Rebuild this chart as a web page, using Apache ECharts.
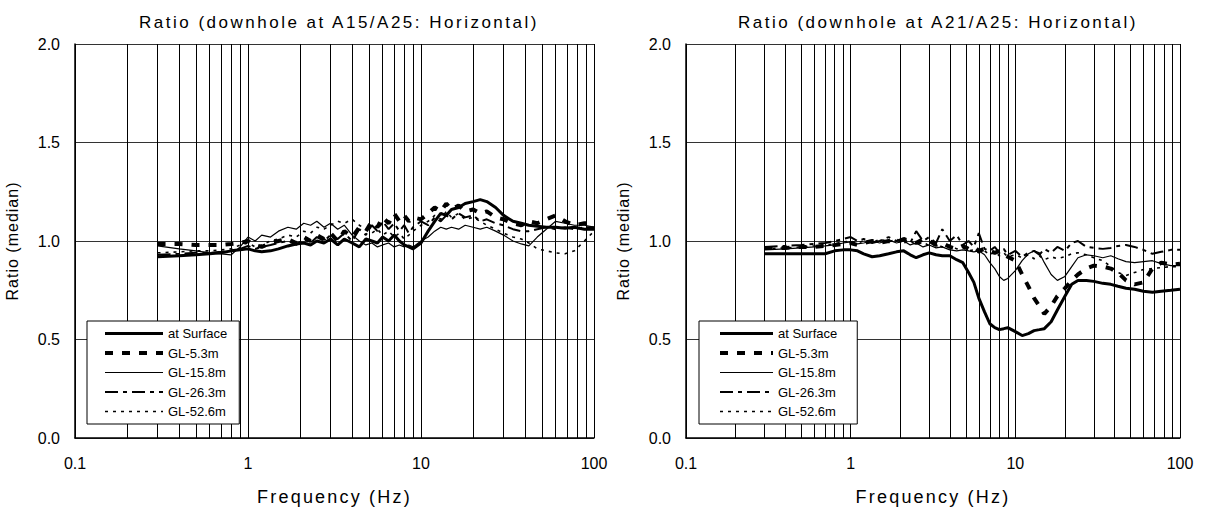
<!DOCTYPE html>
<html><head><meta charset="utf-8">
<script src="https://cdn.jsdelivr.net/npm/echarts@6/dist/echarts.min.js"></script>
<style>
html,body{margin:0;padding:0;background:#fff}#c{width:1206px;height:511px}
#c text[style*="Helvetica"]{letter-spacing:2.5px}
#c text[style*="Arimo"]{letter-spacing:2.2px}
#c text[style*="Tinos"]{letter-spacing:1.0px}
</style>
</head><body><div id="c"></div>
<script>
const freq = [0.3,0.4,0.5,0.6,0.7,0.8,0.9,1.0,1.1,1.2,1.35,1.5,1.7,1.9,2.1,2.3,2.5,2.75,3.0,3.3,3.6,4.0,4.4,4.8,5.2,5.6,6.0,6.5,7.0,7.5,8.0,8.5,9.0,10,11,12,13,14,15,16.5,18,20,22,24,27,30,34,38,42,47,53,60,68,77,88,100];
const seriesNames = ['at Surface','GL-5.3m','GL-15.8m','GL-26.3m','GL-52.6m'];
const titles = ['Ratio (downhole at A15/A25: Horizontal)','Ratio (downhole at A21/A25: Horizontal)'];
const minorFreq = [0.2,0.3,0.4,0.5,0.6,0.7,0.8,0.9,2,3,4,5,6,7,8,9,20,30,40,50,60,70,80,90];

// Left chart (A15/A25)
const L_surface = [.92,.925,.93,.935,.94,.95,.955,.96,.95,.945,.95,.96,.975,.985,.99,.98,1.0,.99,1.01,.98,1.01,.99,.97,1.01,1.0,.99,1.02,1.0,1.03,1.0,.98,.97,.96,.99,1.05,1.1,1.14,1.13,1.16,1.17,1.19,1.2,1.21,1.2,1.17,1.13,1.1,1.09,1.08,1.075,1.07,1.07,1.065,1.07,1.06,1.06];
const L_gl53 = [.985,.985,.98,.98,.98,.985,.99,1.0,.98,.97,.99,1.0,1.01,.99,1.02,1.0,1.03,1.01,1.04,1.0,1.05,1.02,1.07,1.05,1.1,1.07,1.12,1.09,1.14,1.1,1.13,1.1,1.12,1.11,1.14,1.17,1.15,1.19,1.16,1.18,1.15,1.16,1.14,1.15,1.12,1.11,1.09,1.08,1.1,1.09,1.11,1.13,1.1,1.08,1.09,1.09];
const L_gl158 = [.975,.96,.95,.94,.935,.93,.97,1.02,1.0,1.03,1.02,1.05,1.07,1.06,1.09,1.08,1.1,1.07,1.09,1.06,1.08,1.03,1.0,.98,.99,.97,.98,.99,.97,.98,.97,.98,.97,1.0,1.02,1.05,1.07,1.06,1.07,1.06,1.08,1.07,1.06,1.07,1.05,1.03,1.0,.985,.975,1.02,1.06,1.1,1.09,1.08,1.08,1.07];
const L_gl263 = [.93,.935,.94,.94,.945,.95,.96,.975,.96,.97,.98,.99,1.0,.98,1.01,.99,1.02,1.0,1.03,1.01,1.04,1.0,1.06,1.03,1.08,1.05,1.1,1.06,1.09,1.05,1.08,1.04,1.07,1.1,1.08,1.12,1.1,1.13,1.11,1.14,1.12,1.13,1.1,1.11,1.09,1.08,1.06,1.05,1.05,1.06,1.07,1.06,1.07,1.06,1.07,1.07];
const L_gl526 = [.94,.945,.95,.95,.955,.96,.98,.99,.97,.98,1.0,1.01,1.03,1.02,1.05,1.04,1.07,1.06,1.08,1.1,1.09,1.11,1.08,1.06,1.04,1.06,1.03,1.05,1.02,1.04,1.01,1.03,1.05,1.08,1.1,1.13,1.11,1.15,1.12,1.14,1.11,1.12,1.1,1.08,1.06,1.04,1.02,1.01,.99,.96,.95,.94,.935,.95,1.0,1.05];

// Right chart (A21/A25)
const R_surface = [.935,.935,.935,.935,.935,.95,.955,.955,.95,.935,.92,.925,.935,.945,.95,.93,.915,.93,.94,.93,.925,.925,.905,.89,.84,.79,.71,.64,.58,.56,.55,.555,.56,.54,.52,.53,.545,.55,.555,.59,.65,.72,.78,.80,.80,.795,.785,.78,.77,.76,.755,.745,.74,.745,.75,.755];
const R_gl53 = [.965,.965,.97,.97,.975,.98,.985,.99,.98,.99,1.0,.99,1.0,.995,1.01,1.0,.99,1.01,1.0,.98,.99,.97,.96,.975,.96,.97,.95,.96,.95,.94,.95,.93,.92,.9,.83,.77,.71,.67,.63,.67,.72,.76,.8,.83,.86,.875,.87,.86,.84,.8,.78,.79,.86,.89,.88,.885];
const R_gl158 = [.955,.96,.965,.97,.975,.98,.99,.995,.985,.99,1.0,.99,1.005,.99,1.0,.98,.99,.97,.98,.965,.97,.955,.95,.955,.95,.945,.95,.93,.89,.86,.82,.80,.81,.85,.9,.935,.95,.94,.89,.83,.80,.82,.87,.915,.93,.925,.915,.925,.91,.895,.89,.895,.9,.885,.875,.875];
const R_gl263 = [.97,.975,.98,.985,.99,1.0,1.01,1.02,1.0,1.01,.99,1.0,1.02,1.0,1.01,.99,1.05,1.0,1.02,.99,1.06,1.0,1.03,.98,1.0,.97,1.04,.96,.95,.97,.94,.96,.93,.95,.92,.94,.95,.93,.96,.94,.97,.95,.99,1.0,.97,.965,.96,.965,.975,.98,.97,.955,.935,.945,.955,.955];
const R_gl526 = [.96,.965,.97,.975,.98,.985,.995,1.0,.99,1.0,.99,1.01,.995,1.01,.99,1.0,.98,.995,.975,.985,.97,.98,.96,.965,.95,.955,.94,.95,.93,.945,.925,.94,.92,.93,.915,.93,.91,.925,.905,.92,.91,.92,.935,.94,.93,.915,.9,.87,.84,.825,.84,.855,.86,.865,.87,.87];

const styles = [
  {width: 3, type: 'solid'},
  {width: 4, type: [8, 9]},
  {width: 1.2, type: 'solid'},
  {width: 2, type: [13, 5, 4, 5]},
  {width: 1.6, type: [3, 5]}
];
const leftSets = [L_surface, L_gl53, L_gl158, L_gl263, L_gl526];
const rightSets = [R_surface, R_gl53, R_gl158, R_gl263, R_gl526];

const FONT = 'Liberation Sans, Arial, sans-serif';
const FONT_TITLE = 'Liberation Sans, Helvetica';
const FONT_XNAME = 'Liberation Sans, Arimo';
const FONT_YNAME = 'Liberation Sans, Tinos';

function pairs(vals){ return freq.map((f,i)=>[f, vals[i]]); }

function xAxisDef(idx){
  return {
    type: 'log', logBase: 10, min: 0.1, max: 100, gridIndex: idx,
    name: 'Frequency (Hz)', nameLocation: 'middle', nameGap: 50,
    nameTextStyle: {fontFamily: FONT_XNAME, fontSize: 18, color: '#000'},
    axisLine: {show: true, lineStyle: {color: '#000', width: 1.5}},
    axisTick: {show: false},
    axisLabel: {fontFamily: FONT, fontSize: 16, color: '#000', margin: 17,
      formatter: v => String(v)},
    splitLine: {show: true, lineStyle: {color: '#000', width: 1}}
  };
}
function yAxisDef(idx){
  return {
    type: 'value', min: 0, max: 2, interval: 0.5, gridIndex: idx,
    name: 'Ratio (median)', nameLocation: 'middle', nameGap: 55,
    nameTextStyle: {fontFamily: FONT_YNAME, fontSize: 16, color: '#000'},
    axisLine: {show: true, lineStyle: {color: '#000', width: 1.5}},
    axisTick: {show: false},
    axisLabel: {fontFamily: FONT, fontSize: 16, color: '#000', margin: 15,
      formatter: v => v.toFixed(1)},
    splitLine: {show: true, lineStyle: {color: '#333', width: 1}}
  };
}

const series = [];
[leftSets, rightSets].forEach((sets, g) => {
  series.push({
    type: 'line', xAxisIndex: g, yAxisIndex: g, data: [], silent: true, z: 1,
    markLine: {silent: true, symbol: 'none', animation: false, label: {show: false},
      lineStyle: {color: '#000', width: 1, type: 'solid'},
      emphasis: {disabled: true},
      data: minorFreq.map(f => ({xAxis: f}))}
  });
  sets.forEach((vals, i) => {
    series.push({
      name: seriesNames[i], type: 'line', xAxisIndex: g, yAxisIndex: g,
      data: pairs(vals), showSymbol: false, symbol: 'none', z: 3,
      lineStyle: {color: '#000', width: styles[i].width, type: styles[i].type},
      itemStyle: {color: '#000'},
      emphasis: {disabled: true}
    });
  });
});

function legendDef(left, itemW, pad){
  return {
    data: seriesNames, orient: 'vertical', left: left, top: 321,
    itemWidth: itemW, itemHeight: 14, itemGap: 6.5,
    padding: pad,
    itemStyle: {opacity: 0},
    lineStyle: {width: 'inherit', type: 'inherit', color: '#000'},
    backgroundColor: '#fff', borderColor: '#000', borderWidth: 1,
    textStyle: {fontFamily: FONT, fontSize: 13, color: '#000'},
    selectedMode: false, z: 10
  };
}

const chart = echarts.init(document.getElementById('c'), null, {renderer: 'svg'});
chart.setOption({
  animation: false,
  backgroundColor: '#fff',
  title: [
    {text: titles[0], left: 334, top: 9, textAlign: 'center',
     textStyle: {fontFamily: FONT_TITLE, fontSize: 17, fontWeight: 'normal', color: '#000'}},
    {text: titles[1], left: 933, top: 9, textAlign: 'center',
     textStyle: {fontFamily: FONT_TITLE, fontSize: 17, fontWeight: 'normal', color: '#000'}}
  ],
  grid: [
    {left: 75, right: 612, top: 44, bottom: 69, containLabel: false},
    {left: 686, right: 26, top: 44, bottom: 69, containLabel: false}
  ],
  xAxis: [xAxisDef(0), xAxisDef(1)],
  yAxis: [yAxisDef(0), yAxisDef(1)],
  legend: [legendDef(87, 58, [6, 12, 6, 16]), legendDef(699, 53, [6, 20, 6, 19])],
  series: series
});
</script>
</body></html>
